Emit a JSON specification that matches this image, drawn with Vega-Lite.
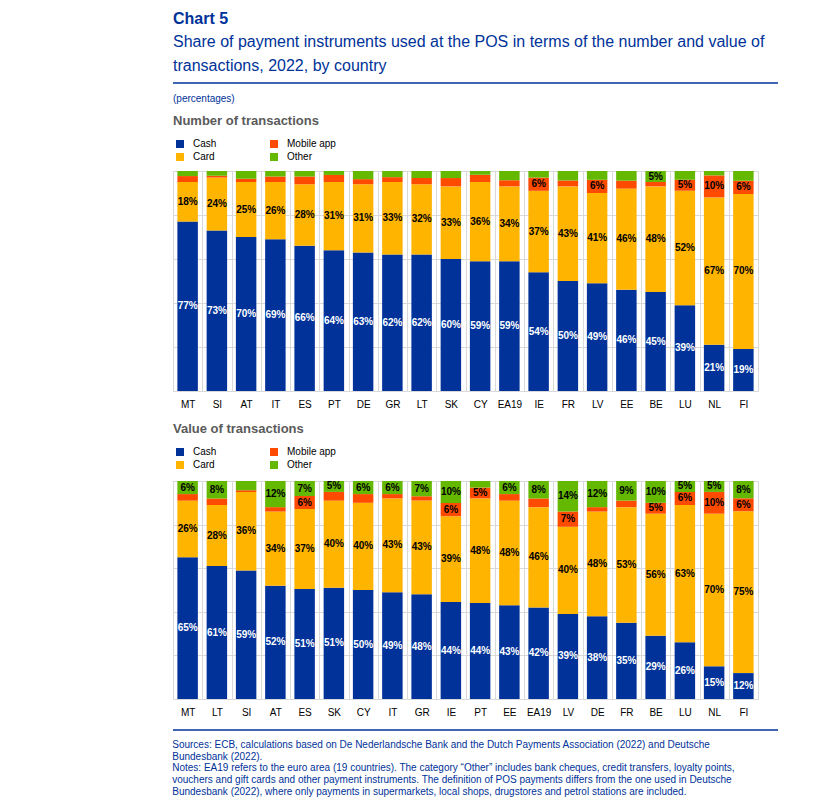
{
  "$schema": "https://vega.github.io/schema/vega-lite/v6.json",
  "padding": {"left": 172, "top": 11, "right": 10, "bottom": 5},
  "background": "white",
  "config": {
    "font": "Liberation Sans",
    "view": {"stroke": "#d9d9d9"},
    "legend": {
      "orient": "top",
      "direction": "horizontal",
      "columns": 2,
      "title": null,
      "symbolType": "square",
      "symbolSize": 64,
      "symbolStrokeWidth": 0,
      "labelFontSize": 10,
      "labelColor": "#000000",
      "labelOffset": 8,
      "columnPadding": 52,
      "rowPadding": 3,
      "padding": 2
    }
  },
  "title": {
    "text": "Chart 5",
    "subtitle": ["Share of payment instruments used at the POS in terms of the number and value of", "transactions, 2022, by country"],
    "anchor": "start",
    "frame": "group",
    "fontSize": 16,
    "fontWeight": "bold",
    "color": "#003299",
    "subtitleFontSize": 16,
    "subtitleColor": "#003299",
    "subtitleLineHeight": 24,
    "subtitlePadding": 7,
    "offset": 8
  },
  "datasets": {
    "number": [
      {"country": "MT", "Cash": 77, "Card": 18, "Mobile app": 2.7, "Other": 2.3},
      {"country": "SI", "Cash": 73, "Card": 24, "Mobile app": 0.8, "Other": 2.2},
      {"country": "AT", "Cash": 70, "Card": 25, "Mobile app": 1.5, "Other": 3.5},
      {"country": "IT", "Cash": 69, "Card": 26, "Mobile app": 2.5, "Other": 2.5},
      {"country": "ES", "Cash": 66, "Card": 28, "Mobile app": 3.5, "Other": 2.5},
      {"country": "PT", "Cash": 64, "Card": 31, "Mobile app": 3.2, "Other": 1.8},
      {"country": "DE", "Cash": 63, "Card": 31, "Mobile app": 2.3, "Other": 3.7},
      {"country": "GR", "Cash": 62, "Card": 33, "Mobile app": 2.2, "Other": 2.8},
      {"country": "LT", "Cash": 62, "Card": 32, "Mobile app": 2.8, "Other": 3.2},
      {"country": "SK", "Cash": 60, "Card": 33, "Mobile app": 3.8, "Other": 3.2},
      {"country": "CY", "Cash": 59, "Card": 36, "Mobile app": 3.3, "Other": 1.7},
      {"country": "EA19", "Cash": 59, "Card": 34, "Mobile app": 2.8, "Other": 4.2},
      {"country": "IE", "Cash": 54, "Card": 37, "Mobile app": 6, "Other": 3},
      {"country": "FR", "Cash": 50, "Card": 43, "Mobile app": 2.7, "Other": 4.3},
      {"country": "LV", "Cash": 49, "Card": 41, "Mobile app": 6, "Other": 4},
      {"country": "EE", "Cash": 46, "Card": 46, "Mobile app": 3.6, "Other": 4.4},
      {"country": "BE", "Cash": 45, "Card": 48, "Mobile app": 2, "Other": 5},
      {"country": "LU", "Cash": 39, "Card": 52, "Mobile app": 5, "Other": 4},
      {"country": "NL", "Cash": 21, "Card": 67, "Mobile app": 10, "Other": 2},
      {"country": "FI", "Cash": 19, "Card": 70, "Mobile app": 6, "Other": 4.4}
    ],
    "value": [
      {"country": "MT", "Cash": 65, "Card": 26, "Mobile app": 3, "Other": 6},
      {"country": "LT", "Cash": 61, "Card": 28, "Mobile app": 3, "Other": 8},
      {"country": "SI", "Cash": 59, "Card": 36, "Mobile app": 0.8, "Other": 4.2},
      {"country": "AT", "Cash": 52, "Card": 34, "Mobile app": 2, "Other": 12},
      {"country": "ES", "Cash": 51, "Card": 37, "Mobile app": 6, "Other": 7},
      {"country": "SK", "Cash": 51, "Card": 40, "Mobile app": 4, "Other": 5},
      {"country": "CY", "Cash": 50, "Card": 40, "Mobile app": 4, "Other": 6},
      {"country": "IT", "Cash": 49, "Card": 43, "Mobile app": 2, "Other": 6},
      {"country": "GR", "Cash": 48, "Card": 43, "Mobile app": 2, "Other": 7},
      {"country": "IE", "Cash": 44, "Card": 39, "Mobile app": 6, "Other": 10},
      {"country": "PT", "Cash": 44, "Card": 48, "Mobile app": 5, "Other": 3},
      {"country": "EE", "Cash": 43, "Card": 48, "Mobile app": 3, "Other": 6},
      {"country": "EA19", "Cash": 42, "Card": 46, "Mobile app": 4, "Other": 8},
      {"country": "LV", "Cash": 39, "Card": 40, "Mobile app": 7, "Other": 14},
      {"country": "DE", "Cash": 38, "Card": 48, "Mobile app": 2, "Other": 12},
      {"country": "FR", "Cash": 35, "Card": 53, "Mobile app": 3, "Other": 9},
      {"country": "BE", "Cash": 29, "Card": 56, "Mobile app": 5, "Other": 10},
      {"country": "LU", "Cash": 26, "Card": 63, "Mobile app": 6, "Other": 5},
      {"country": "NL", "Cash": 15, "Card": 70, "Mobile app": 10, "Other": 5},
      {"country": "FI", "Cash": 12, "Card": 75, "Mobile app": 6, "Other": 8}
    ]
  },
  "spacing": 9,
  "resolve": {"legend": {"color": "independent"}, "scale": {"color": "independent"}},
  "vconcat": [
    {
      "width": 605,
      "height": 1,
      "view": {"stroke": null},
      "data": {"values": [{"x0": 0, "x1": 1, "y": 0}]},
      "mark": {"type": "rule", "color": "#003299", "strokeWidth": 1.5},
      "encoding": {
        "x": {"field": "x0", "type": "quantitative", "scale": {"domain": [0, 1]}, "axis": null},
        "x2": {"field": "x1"},
        "y": {"field": "y", "type": "quantitative", "scale": {"domain": [0, 1]}, "axis": null}
      }
    },
    {
      "spacing": 12,
      "resolve": {"legend": {"color": "independent"}, "scale": {"color": "independent"}},
      "vconcat": [
        {
          "width": 585,
          "height": 220,
          "data": {"name": "number"},
          "title": {
            "text": "(percentages)",
            "subtitle": "Number of transactions",
            "anchor": "start",
            "fontSize": 10,
            "fontWeight": "normal",
            "color": "#003299",
            "subtitleFontSize": 13,
            "subtitleFontWeight": "bold",
            "subtitleColor": "#5a5a5a",
            "subtitlePadding": 11,
            "offset": 9
          },
          "transform": [
            {"fold": ["Cash", "Card", "Mobile app", "Other"], "as": ["instrument", "share"]},
            {"calculate": "indexof(['Cash','Card','Mobile app','Other'], datum.instrument)", "as": "ord"},
            {"stack": "share", "groupby": ["country"], "sort": [{"field": "ord", "order": "ascending"}], "offset": "normalize", "as": ["y0", "y1"]},
            {"calculate": "(datum.y0 + datum.y1) / 2", "as": "ymid"},
            {"calculate": "format(datum.share, '.0f') + '%'", "as": "label"}
          ],
          "encoding": {
            "x": {
              "field": "country",
              "type": "nominal",
              "sort": ["MT", "SI", "AT", "IT", "ES", "PT", "DE", "GR", "LT", "SK", "CY", "EA19", "IE", "FR", "LV", "EE", "BE", "LU", "NL", "FI"],
              "scale": {"paddingInner": 0, "paddingOuter": 0},
              "axis": {"title": null, "labelAngle": 0, "labelFontSize": 10, "labelColor": "#000000", "labelPadding": 8, "ticks": false, "domain": false, "grid": true, "tickBand": "extent", "gridColor": "#d9d9d9"}
            }
          },
          "layer": [
            {
              "mark": {"type": "bar", "width": {"band": 0.7}},
              "encoding": {
                "y": {"field": "y0", "type": "quantitative", "scale": {"domain": [0, 1], "nice": false}, "axis": {"title": null, "labels": false, "ticks": false, "domain": false, "grid": true, "values": [0, 0.2, 0.4, 0.6, 0.8, 1], "gridColor": "#d9d9d9"}},
                "y2": {"field": "y1"},
                "color": {"field": "instrument", "type": "nominal", "scale": {"domain": ["Cash", "Mobile app", "Card", "Other"], "range": ["#003299", "#ff4b00", "#ffb400", "#65b800"]}, "legend": {"offset": 7}}
              }
            },
            {
              "transform": [{"filter": "datum.share >= 5"}],
              "mark": {"type": "text", "fontWeight": "bold", "fontSize": 10},
              "encoding": {
                "y": {"field": "ymid", "type": "quantitative"},
                "text": {"field": "label"},
                "color": {"condition": {"test": "datum.instrument === 'Cash'", "value": "#ffffff"}, "value": "#000000"}
              }
            }
          ]
        },
        {
          "width": 585,
          "height": 218,
          "data": {"name": "value"},
          "title": {
            "text": "Value of transactions",
            "anchor": "start",
            "fontSize": 13,
            "fontWeight": "bold",
            "color": "#5a5a5a",
            "offset": 9
          },
          "transform": [
            {"fold": ["Cash", "Card", "Mobile app", "Other"], "as": ["instrument", "share"]},
            {"calculate": "indexof(['Cash','Card','Mobile app','Other'], datum.instrument)", "as": "ord"},
            {"stack": "share", "groupby": ["country"], "sort": [{"field": "ord", "order": "ascending"}], "offset": "normalize", "as": ["y0", "y1"]},
            {"calculate": "(datum.y0 + datum.y1) / 2", "as": "ymid"},
            {"calculate": "format(datum.share, '.0f') + '%'", "as": "label"}
          ],
          "encoding": {
            "x": {
              "field": "country",
              "type": "nominal",
              "sort": ["MT", "LT", "SI", "AT", "ES", "SK", "CY", "IT", "GR", "IE", "PT", "EE", "EA19", "LV", "DE", "FR", "BE", "LU", "NL", "FI"],
              "scale": {"paddingInner": 0, "paddingOuter": 0},
              "axis": {"title": null, "labelAngle": 0, "labelFontSize": 10, "labelColor": "#000000", "labelPadding": 8, "ticks": false, "domain": false, "grid": true, "tickBand": "extent", "gridColor": "#d9d9d9"}
            }
          },
          "layer": [
            {
              "mark": {"type": "bar", "width": {"band": 0.7}},
              "encoding": {
                "y": {"field": "y0", "type": "quantitative", "scale": {"domain": [0, 1], "nice": false}, "axis": {"title": null, "labels": false, "ticks": false, "domain": false, "grid": true, "values": [0, 0.2, 0.4, 0.6, 0.8, 1], "gridColor": "#d9d9d9"}},
                "y2": {"field": "y1"},
                "color": {"field": "instrument", "type": "nominal", "scale": {"domain": ["Cash", "Mobile app", "Card", "Other"], "range": ["#003299", "#ff4b00", "#ffb400", "#65b800"]}, "legend": {"offset": 9}}
              }
            },
            {
              "transform": [{"filter": "datum.share >= 5"}],
              "mark": {"type": "text", "fontWeight": "bold", "fontSize": 10},
              "encoding": {
                "y": {"field": "ymid", "type": "quantitative"},
                "text": {"field": "label"},
                "color": {"condition": {"test": "datum.instrument === 'Cash'", "value": "#ffffff"}, "value": "#000000"}
              }
            }
          ]
        }
      ]
    },
    {
      "width": 605,
      "height": 3,
      "view": {"stroke": null},
      "data": {"values": [{"x0": 0, "x1": 1, "y": 0}]},
      "title": {
        "text": [
          "Sources: ECB, calculations based on De Nederlandsche Bank and the Dutch Payments Association (2022) and Deutsche",
          "Bundesbank (2022).",
          "Notes: EA19 refers to the euro area (19 countries). The category “Other” includes bank cheques, credit transfers, loyalty points,",
          "vouchers and gift cards and other payment instruments. The definition of POS payments differs from the one used in Deutsche",
          "Bundesbank (2022), where only payments in supermarkets, local shops, drugstores and petrol stations are included."
        ],
        "orient": "bottom",
        "anchor": "start",
        "fontSize": 10,
        "fontWeight": "normal",
        "color": "#003299",
        "lineHeight": 11.8,
        "offset": 9
      },
      "mark": {"type": "rule", "color": "#003299", "strokeWidth": 1.5},
      "encoding": {
        "x": {"field": "x0", "type": "quantitative", "scale": {"domain": [0, 1]}, "axis": null},
        "x2": {"field": "x1"},
        "y": {"field": "y", "type": "quantitative", "scale": {"domain": [0, 1]}, "axis": null}
      }
    }
  ]
}
